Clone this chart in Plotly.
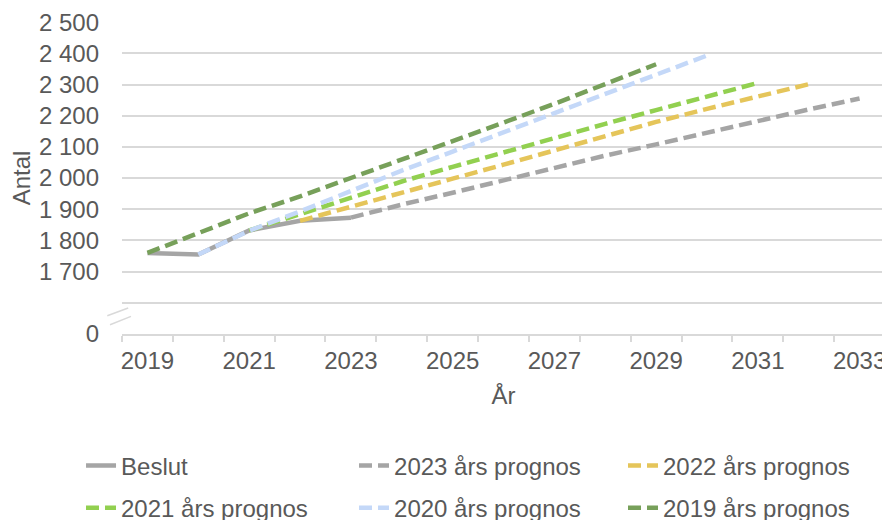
import plotly.graph_objects as go

# Data
years_beslut = [2019, 2020, 2021, 2022, 2023]
beslut = [1760, 1755, 1832, 1863, 1873]

years_2023 = list(range(2023, 2034))
prog_2023 = [1873, 1915, 1953, 1993, 2032, 2072, 2108, 2146, 2183, 2220, 2255]

years_2022 = list(range(2022, 2033))
prog_2022 = [1863, 1907, 1953, 1998, 2043, 2089, 2137, 2180, 2222, 2263, 2301]

years_2021 = list(range(2021, 2032))
prog_2021 = [1832, 1884, 1938, 1989, 2036, 2083, 2130, 2174, 2218, 2263, 2305]

years_2020 = list(range(2020, 2031))
prog_2020 = [1755, 1831, 1893, 1958, 2024, 2085, 2147, 2210, 2272, 2331, 2393]

years_2019 = list(range(2019, 2030))
prog_2019 = [1760, 1823, 1887, 1941, 2000, 2057, 2117, 2178, 2238, 2302, 2365]

x_tick_years = [2019, 2021, 2023, 2025, 2027, 2029, 2031, 2033]
y_tick_vals = [1500, 1600, 1700, 1800, 1900, 2000, 2100, 2200, 2300, 2400, 2500]
y_tick_text = ["0", "", "1 700", "1 800", "1 900", "2 000", "2 100", "2 200", "2 300", "2 400", "2 500"]

FONT = "Liberation Sans, Arial, sans-serif"
FS = 24
TXT = "#595959"
GRID = "#D9D9D9"
DASH = "13px,6px"
LW = 4.5

series = [
    ("Beslut", years_beslut, beslut, "#A5A5A5", "solid"),
    ("2023 års prognos", years_2023, prog_2023, "#A5A5A5", DASH),
    ("2022 års prognos", years_2022, prog_2022, "#E5C55A", DASH),
    ("2021 års prognos", years_2021, prog_2021, "#92D050", DASH),
    ("2020 års prognos", years_2020, prog_2020, "#C4D8F8", DASH),
    ("2019 års prognos", years_2019, prog_2019, "#77A05A", DASH),
]

# legend slot placement (paper coords): x of legend box, y of row centre
legend_pos = [(-0.0537, -0.423), (0.3041, -0.423), (0.6566, -0.423),
              (-0.0537, -0.558), (0.3041, -0.558), (0.6566, -0.558)]

fig = go.Figure()
legends = {}
for i, (name, xs, ys, col, dash) in enumerate(series):
    lg = "legend" if i == 0 else f"legend{i + 1}"
    fig.add_trace(go.Scatter(
        x=xs, y=ys, name=name, mode="lines",
        line=dict(color=col, width=LW, dash=dash),
        legend=lg,
    ))
    lx, ly = legend_pos[i]
    legends[lg] = dict(
        x=lx, y=ly, xanchor="left", yanchor="middle", orientation="h",
        font=dict(family=FONT, size=FS, color=TXT),
        bgcolor="rgba(0,0,0,0)", itemclick=False, itemdoubleclick=False,
    )

# page body has an 8px margin, so the figure is sized/offset to compensate
fig.update_layout(
    width=882, height=512,
    margin=dict(l=114, r=5, t=14, b=186, autoexpand=False),
    paper_bgcolor="white", plot_bgcolor="white",
    font=dict(family=FONT, size=FS, color=TXT),
    showlegend=True,
    **legends,
    xaxis=dict(
        range=[2018.5, 2033.5], automargin=False,
        tickmode="array", tickvals=x_tick_years,
        ticktext=[str(v) for v in x_tick_years],
        ticks="", showgrid=False, zeroline=False,
        showline=True, linecolor=GRID, linewidth=1.5,
        minor=dict(tickmode="linear", tick0=2018.5, dtick=1, ticks="outside",
                   ticklen=6, tickcolor=GRID, tickwidth=1.5, showgrid=False),
        ticklabelstandoff=4,
        tickfont=dict(family=FONT, size=FS, color=TXT),
        title=dict(text="År", font=dict(family=FONT, size=FS, color=TXT), standoff=15),
    ),
    yaxis=dict(
        range=[1500, 2500.5], automargin=False,
        tickmode="array", tickvals=y_tick_vals, ticktext=y_tick_text,
        showgrid=True, gridcolor=GRID, gridwidth=1.5,
        zeroline=False, showline=False, ticks="",
        ticklabelstandoff=22,
        tickfont=dict(family=FONT, size=FS, color=TXT),
        title=dict(text="Antal", font=dict(family=FONT, size=FS, color=TXT), standoff=2),
    ),
)

# Axis-break marks (decoration)
for (x0, y0, x1, y1) in [(-0.0193, 0.0587, 0.0081, 0.0833), (-0.0157, 0.0298, 0.0118, 0.0564)]:
    fig.add_shape(type="line", xref="paper", yref="paper", x0=x0, y0=y0, x1=x1, y1=y1,
                  line=dict(color=GRID, width=1.5))

fig.write_html("out.html")
